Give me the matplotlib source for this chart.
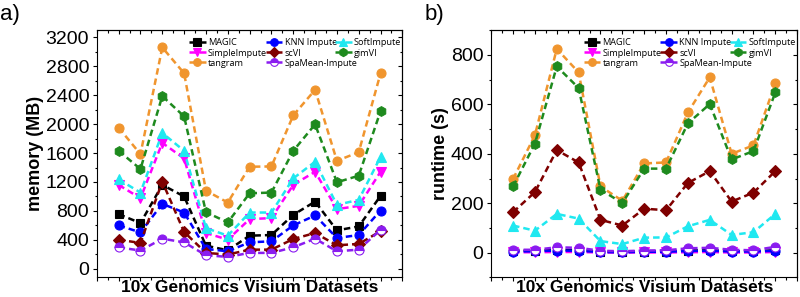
import numpy as np
import matplotlib.pyplot as plt
from matplotlib.ticker import MultipleLocator

plt.rcParams['font.family'] = 'Liberation Sans'

# dataset index (13 Visium sections)
datasets = np.arange(1, 14)

methods = ['MAGIC', 'SimpleImpute', 'tangram', 'KNN Impute', 'scVI',
           'SpaMean-Impute', 'SoftImpute', 'gimVI']

# memory (MB)
mem_magic = [756, 632, 1160, 1000, 320, 256, 458, 467, 746, 929, 531, 586, 1008]
mem_simple = [1160, 976, 1741, 1525, 495, 403, 687, 701, 1160, 1342, 825, 870, 1342]
mem_tangram = [1951, 1585, 3060, 2703, 1081, 916, 1411, 1415, 2121, 2474, 1493, 1612, 2703]
mem_knn = [600, 503, 898, 778, 275, 242, 366, 380, 600, 737, 426, 467, 806]
mem_scvi = [403, 357, 1205, 509, 220, 197, 265, 265, 412, 495, 325, 344, 520]
mem_spamean = [297, 252, 416, 366, 187, 165, 220, 220, 297, 416, 242, 265, 540]
mem_soft = [1237, 1054, 1878, 1631, 563, 458, 778, 778, 1250, 1480, 884, 953, 1548]
mem_gimvi = [1631, 1379, 2387, 2107, 783, 641, 1044, 1054, 1631, 1997, 1196, 1287, 2181]

# runtime (s)
rt_magic = [8, 9, 12, 11, 4, 3, 5, 5, 9, 10, 6, 6, 10]
rt_simple = [2, 2, 3, 3, 1, 1, 1, 1, 2, 3, 1, 1, 3]
rt_tangram = [298, 475, 824, 729, 268, 210, 361, 365, 567, 709, 400, 434, 685]
rt_knn = [5, 6, 9, 8, 3, 2, 4, 4, 7, 8, 5, 5, 8]
rt_scvi = [164, 245, 415, 365, 133, 110, 178, 172, 282, 330, 207, 243, 330]
rt_spamean = [12, 12, 22, 20, 8, 6, 9, 10, 18, 20, 12, 10, 24]
rt_soft = [110, 89, 157, 138, 47, 35, 61, 62, 107, 133, 72, 83, 157]
rt_gimvi = [268, 441, 753, 666, 255, 201, 340, 340, 523, 601, 377, 411, 648]

mem_data = [mem_magic, mem_simple, mem_tangram, mem_knn, mem_scvi,
            mem_spamean, mem_soft, mem_gimvi]
rt_data = [rt_magic, rt_simple, rt_tangram, rt_knn, rt_scvi,
           rt_spamean, rt_soft, rt_gimvi]

colors = ['black', '#FF00FF', '#F0952E', '#0000FF', '#7F0000',
          '#8A1CF0', '#20E8F0', '#1E8A1E']
markers = ['s', 'v', 'o', 'o', 'D', 'o', '^', 'h']
sizes = [6, 6.5, 6.5, 6.5, 6, 6.5, 6.5, 7]

# legend columns overlap slightly (like the original), so one legend per column
legend_cols = [(0.302, [0, 1, 2]), (0.553, [3, 4, 5]), (0.78, [6, 7])]


def draw_panel(ax, data, ylabel, ylim, major, minor):
    lines = []
    for vals, name, c, m, s in zip(data, methods, colors, markers, sizes):
        kw = dict(color=c, marker=m, markersize=s, linewidth=1.8,
                  linestyle=(0, (2.6, 1.6)), label=name, markeredgewidth=0.8)
        if name == 'SpaMean-Impute':
            kw.update(fillstyle='top', markerfacecoloralt='white',
                      markeredgecolor=c)
        lines += ax.plot(datasets, vals, **kw)
    ax.set_xlim(0, 14)
    ax.set_ylim(*ylim)
    ax.xaxis.set_major_locator(MultipleLocator(1))
    ax.xaxis.set_minor_locator(MultipleLocator(0.5))
    ax.yaxis.set_major_locator(MultipleLocator(major))
    ax.yaxis.set_minor_locator(MultipleLocator(minor))
    ax.tick_params(axis='x', which='both', labelbottom=False)
    ax.tick_params(which='major', direction='out', length=3, width=0.8,
                   labelsize=14, pad=2.5)
    ax.tick_params(which='minor', direction='out', length=1.8, width=0.8)
    # mirror ticks pointing inward on top/right
    top = ax.secondary_xaxis('top')
    top.xaxis.set_major_locator(MultipleLocator(1))
    top.xaxis.set_minor_locator(MultipleLocator(0.5))
    top.tick_params(which='major', direction='in', length=3, width=0.8,
                    labeltop=False)
    top.tick_params(which='minor', direction='in', length=1.8, width=0.8)
    right = ax.secondary_yaxis('right')
    right.yaxis.set_major_locator(MultipleLocator(major))
    right.yaxis.set_minor_locator(MultipleLocator(minor))
    right.tick_params(which='major', direction='in', length=3, width=0.8,
                      labelright=False)
    right.tick_params(which='minor', direction='in', length=1.8, width=0.8)
    for sp in ax.spines.values():
        sp.set_linewidth(0.8)
    ax.set_ylabel(ylabel, fontsize=13, fontweight='bold', labelpad=1)
    ax.set_xlabel('10x Genomics Visium Datasets', fontsize=12.5,
                  fontweight='bold', labelpad=-1)
    for k, (x0, idx) in enumerate(legend_cols):
        leg = ax.legend([lines[i] for i in idx], [methods[i] for i in idx],
                        loc='upper left', bbox_to_anchor=(x0, 0.966),
                        frameon=False, prop={'family': 'Open Sans', 'size': 6.6},
                        handlelength=1.8, handletextpad=0.25,
                        labelspacing=0.12, borderaxespad=0, borderpad=0,
                        markerscale=0.85)
        if k < len(legend_cols) - 1:
            ax.add_artist(leg)


fig = plt.figure(figsize=(8, 2.97), dpi=100)
ax_a = fig.add_axes([0.121, 0.0657, 0.382, 0.833])
ax_b = fig.add_axes([0.614, 0.0657, 0.3825, 0.833])

draw_panel(ax_a, mem_data, 'memory (MB)', (-120, 3300), 400, 200)
draw_panel(ax_b, rt_data, 'runtime (s)', (-100, 900), 200, 100)

fig.text(0.0, 0.985, 'a)', fontsize=16, va='top', ha='left')
fig.text(0.531, 0.985, 'b)', fontsize=16, va='top', ha='left')

fig.savefig('out.png', dpi=100)
